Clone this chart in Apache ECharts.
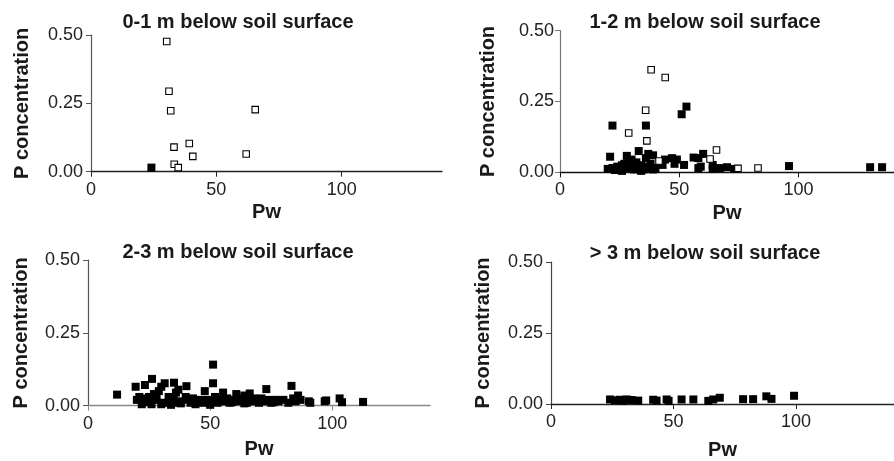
<!DOCTYPE html>
<html>
<head>
<meta charset="utf-8">
<script src="https://cdn.jsdelivr.net/npm/echarts@6/dist/echarts.min.js"></script>
<style>html,body{margin:0;padding:0;background:#fff;}#c{width:894px;height:461px;}</style>
</head>
<body>
<div id="c"></div>
<script>
// Panel titles
var panelTitles = ['0-1 m below soil surface', '1-2 m below soil surface', '2-3 m below soil surface', '> 3 m below soil surface'];
var xTicks = [0, 50, 100];
var yTicks = [0, 0.25, 0.5];

// 0-1 m
var p1Open = [[30.2,0.476],[31.1,0.294],[31.8,0.223],[33.1,0.090],[39.2,0.103],[40.6,0.056],[33.2,0.027],[34.8,0.015],[61.9,0.065],[65.5,0.227]];
var p1Filled = [[24.1,0.015]];

// 1-2 m
var p2Open = [[38.2,0.362],[44.1,0.335],[35.9,0.219],[28.8,0.139],[36.4,0.111],[65.6,0.079],[62.9,0.047],[41.5,0.040],[83.0,0.015],[74.6,0.014]];
var p2Filled = [[22,0.165],[36,0.165],[51,0.205],[53,0.232],[21,0.055],[33,0.075],[28,0.058],[37,0.065],[39,0.060],[36,0.050],
  [47,0.050],[49,0.045],[56,0.052],[58,0.050],[60,0.065],[43,0.026],[48,0.030],[52,0.026],[58,0.015],[64,0.026],[64,0.012],
  [67,0.015],[70,0.018],[73,0.012],[96,0.022],[130,0.018],[135,0.018],
  [20,0.012],[22,0.015],[23,0.008],[24,0.020],[25,0.010],[26,0.025],[26,0.005],[27,0.030],[28,0.015],[29,0.040],[30,0.020],
  [30,0.045],[31,0.010],[32,0.035],[33,0.015],[34,0.025],[34,0.005],[35,0.010],[36,0.020],[37,0.015],[38,0.030],[39,0.010],
  [40,0.015],[59,0.020],[44,0.045]];

// 2-3 m
var p3Filled = [[11.9,0.038],[19.5,0.065],[20,0.020],[21,0.030],[22,0.025],[23,0.012],[22,0.005],[23.3,0.071],[26.2,0.092],
  [25,0.015],[25,0.030],[26,0.005],[27,0.040],[28,0.020],[28,0.035],[29,0.050],[30,0.065],[30,0.005],[31,0.010],[31.4,0.077],
  [33,0.030],[33,0.012],[34,0.003],[35.2,0.079],[35,0.020],[36,0.045],[36,0.010],[37,0.055],[38,0.015],[38,0.008],[40.3,0.067],
  [40,0.030],[41,0.020],[42,0.010],[43,0.025],[44,0.015],[44,0.005],[45,0.012],[46,0.020],[47,0.010],[47.8,0.050],[49,0.020],
  [50,0.015],[50,0.003],[51.2,0.141],[51.2,0.077],[52,0.030],[53,0.010],[54,0.020],[55.3,0.045],[56,0.015],[57,0.025],[58,0.010],
  [59,0.012],[60,0.020],[60.7,0.040],[62,0.015],[63,0.025],[64,0.035],[64,0.008],[65,0.010],[66.2,0.042],[66,0.020],[67,0.015],
  [68,0.025],[69,0.020],[70,0.010],[71,0.025],[72,0.015],[73,0.057],[74,0.020],[75,0.010],[76,0.012],[77,0.020],[78,0.015],
  [80,0.020],[82,0.010],[83.3,0.068],[84,0.025],[85,0.015],[86,0.035],[87,0.020],[90.4,0.015],[91,0.010],[96.9,0.015],[97.5,0.018],
  [103,0.025],[104,0.012],[112.6,0.013]];

// > 3 m
var p4Filled = [[24.1,0.016],[26.1,0.013],[28.1,0.015],[29.5,0.011],[30.9,0.016],[32.9,0.014],[35.6,0.012],[41.7,0.015],
  [43.1,0.012],[47.2,0.016],[48,0.011],[53.3,0.016],[58.1,0.016],[64.2,0.011],[66.2,0.016],[68.9,0.022],[78.4,0.017],
  [82.5,0.017],[87.9,0.027],[90,0.018],[99.2,0.029]];

var grids = [
  {left: 91, top: 35, width: 351, height: 136.7},
  {left: 560, top: 30.7, width: 340.6, height: 141.6},
  {left: 88, top: 260, width: 342, height: 145.7},
  {left: 551, top: 262, width: 343.4, height: 142}
];
var titlePos = [[233, 7], [700, 7], [233, 237], [700, 238]];
var yNameGap = [59, 62, 57, 58];
var xNameGap = [31, 31, 34, 36];
var xAxisColor = ['#222', '#111', '#888', '#222'];
var yAxisColor = ['#555', '#777', '#555', '#444'];
var yLabelMargin = [8, 6, 8, 8];

var FONT = '"Liberation Sans", Arial, sans-serif';

var option = {
  animation: false,
  backgroundColor: '#fff',
  title: panelTitles.map(function (t, i) {
    return {text: t, left: titlePos[i][0], top: titlePos[i][1], textAlign: 'center',
      textStyle: {fontFamily: FONT, fontWeight: 'bold', fontSize: 20, color: '#1a1a1a'}};
  }),
  grid: grids.map(function (g) { return Object.assign({containLabel: false}, g); }),
  xAxis: grids.map(function (g, i) {
    return {
      type: 'value', gridIndex: i, min: xTicks[0], max: 140, interval: xTicks[1] - xTicks[0],
      name: 'Pw', nameLocation: 'middle', nameGap: xNameGap[i],
      nameTextStyle: {fontFamily: FONT, fontWeight: 'bold', fontSize: 20, color: '#1a1a1a'},
      axisLine: {show: true, onZero: false, lineStyle: {color: xAxisColor[i], width: 1.3}},
      axisTick: {show: true, length: 5, lineStyle: {color: xAxisColor[i]}, customValues: xTicks},
      axisLabel: {fontFamily: FONT, fontSize: 18, color: '#222', margin: 9, customValues: xTicks},
      splitLine: {show: false}
    };
  }),
  yAxis: grids.map(function (g, i) {
    return {
      type: 'value', gridIndex: i, min: yTicks[0], max: yTicks[2], interval: yTicks[1] - yTicks[0],
      name: 'P concentration', nameLocation: 'middle', nameGap: yNameGap[i],
      nameTextStyle: {fontFamily: FONT, fontWeight: 'bold', fontSize: 20, color: '#1a1a1a'},
      axisLine: {show: true, lineStyle: {color: yAxisColor[i], width: 1.2}},
      axisTick: {show: true, length: 5, lineStyle: {color: yAxisColor[i]}},
      axisLabel: {fontFamily: FONT, fontSize: 18, color: '#222', margin: yLabelMargin[i],
        formatter: function (v) { return v.toFixed(2); }},
      splitLine: {show: false}
    };
  }),
  series: []
};

function filledSeries(data, i) {
  return {type: 'scatter', xAxisIndex: i, yAxisIndex: i, data: data, symbol: 'rect', symbolSize: 8,
    itemStyle: {color: '#000', borderColor: '#000', borderWidth: 0, opacity: 1}, z: 2};
}
function openSeries(data, i) {
  return {type: 'scatter', xAxisIndex: i, yAxisIndex: i, data: data, symbol: 'rect', symbolSize: 6.5,
    itemStyle: {color: '#fff', borderColor: '#000', borderWidth: 1.1, opacity: 1}, z: 3};
}
option.series.push(filledSeries(p1Filled, 0), openSeries(p1Open, 0));
option.series.push(filledSeries(p2Filled, 1), openSeries(p2Open, 1));
option.series.push(filledSeries(p3Filled, 2));
option.series.push(filledSeries(p4Filled, 3));

var chart = echarts.init(document.getElementById('c'), null, {renderer: 'canvas'});
chart.setOption(option);
</script>
</body>
</html>
